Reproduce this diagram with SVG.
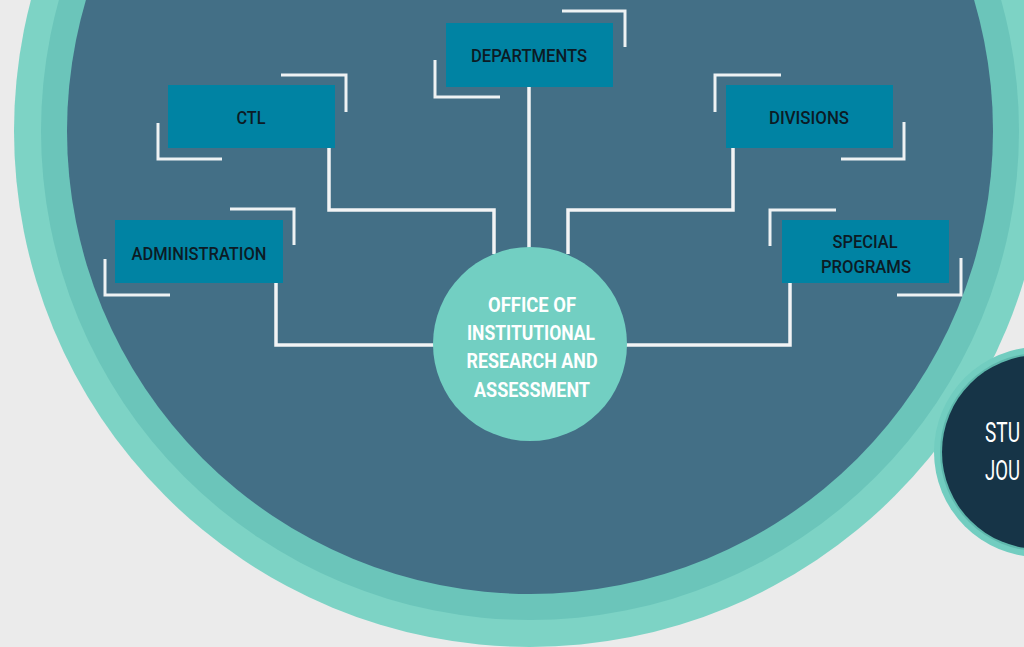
<svg xmlns="http://www.w3.org/2000/svg" width="1024" height="647" viewBox="0 0 1024 647">
<style>
.box{fill:#0083a3}
.lbl{font-family:Roboto,"Liberation Sans",sans-serif;font-size:18px;font-weight:500;fill:#0c1b25;text-anchor:middle}
.br{fill:none;stroke:#eef2f3;stroke-width:3}
.con{fill:none;stroke:#f2f4f5;stroke-width:3.5}
.ctr{font-family:Roboto,"Liberation Sans",sans-serif;font-size:20px;font-weight:bold;fill:#ffffff;text-anchor:middle}
.side{font-family:Roboto,"Liberation Sans",sans-serif;font-size:28px;fill:#ffffff}
</style>
<rect width="1024" height="647" fill="#ebebeb"/>
<g id="big-circle">
<circle cx="530" cy="131" r="516" fill="#7dd3c5"/>
<circle cx="530" cy="131" r="489" fill="#6bc5ba"/>
<circle cx="530" cy="131" r="463" fill="#436f86"/>
</g>
<g id="side-circle">
<circle cx="1039" cy="452" r="105" fill="#72cdc0"/>
<circle cx="1039" cy="452" r="99" fill="#5fb8ad"/>
<circle cx="1039" cy="452" r="97" fill="#163447"/>
<text class="side" x="985" y="442" textLength="35" lengthAdjust="spacingAndGlyphs">STU</text>
<text class="side" x="985" y="480" textLength="35" lengthAdjust="spacingAndGlyphs">JOU</text>
</g>
<g id="connectors">
<path class="con" d="M529 87 V249"/>
<path class="con" d="M329 148 V210 H494 V254"/>
<path class="con" d="M733 148 V210 H568 V254"/>
<path class="con" d="M276 283 V345 H434"/>
<path class="con" d="M790 283 V345 H626"/>
</g>
<g id="departments">
<rect class="box" x="446" y="23" width="167" height="64"/>
<path class="br" d="M562 11 H625 V47"/>
<path class="br" d="M435 60 V97 H500"/>
<text class="lbl" x="529" y="62" textLength="116" lengthAdjust="spacingAndGlyphs">DEPARTMENTS</text>
</g>
<g id="ctl">
<rect class="box" x="168" y="85" width="167" height="63"/>
<path class="br" d="M281 75 H346 V112"/>
<path class="br" d="M158 123 V159 H222"/>
<text class="lbl" x="251" y="124" textLength="29" lengthAdjust="spacingAndGlyphs">CTL</text>
</g>
<g id="administration">
<rect class="box" x="115" y="220" width="168" height="63"/>
<path class="br" d="M230 209 H294 V245"/>
<path class="br" d="M105 259 V295 H170"/>
<text class="lbl" x="199" y="260" textLength="135" lengthAdjust="spacingAndGlyphs">ADMINISTRATION</text>
</g>
<g id="divisions">
<rect class="box" x="726" y="85" width="167" height="63"/>
<path class="br" d="M781 75 H715 V112"/>
<path class="br" d="M904 122 V159 H841"/>
<text class="lbl" x="809" y="124" textLength="80" lengthAdjust="spacingAndGlyphs">DIVISIONS</text>
</g>
<g id="special-programs">
<rect class="box" x="782" y="220" width="167" height="63"/>
<path class="br" d="M836 210 H770 V246"/>
<path class="br" d="M961 258 V295 H897"/>
<text class="lbl" x="865" y="248" textLength="65" lengthAdjust="spacingAndGlyphs">SPECIAL</text>
<text class="lbl" x="866" y="273" textLength="90" lengthAdjust="spacingAndGlyphs">PROGRAMS</text>
</g>
<g id="office">
<circle cx="530" cy="344" r="97" fill="#72cfc2"/>
<text class="ctr" x="532" y="312" textLength="88" lengthAdjust="spacingAndGlyphs">OFFICE OF</text>
<text class="ctr" x="531" y="340" textLength="128" lengthAdjust="spacingAndGlyphs">INSTITUTIONAL</text>
<text class="ctr" x="532" y="368" textLength="131" lengthAdjust="spacingAndGlyphs">RESEARCH AND</text>
<text class="ctr" x="532" y="397" textLength="116" lengthAdjust="spacingAndGlyphs">ASSESSMENT</text>
</g>
</svg>
